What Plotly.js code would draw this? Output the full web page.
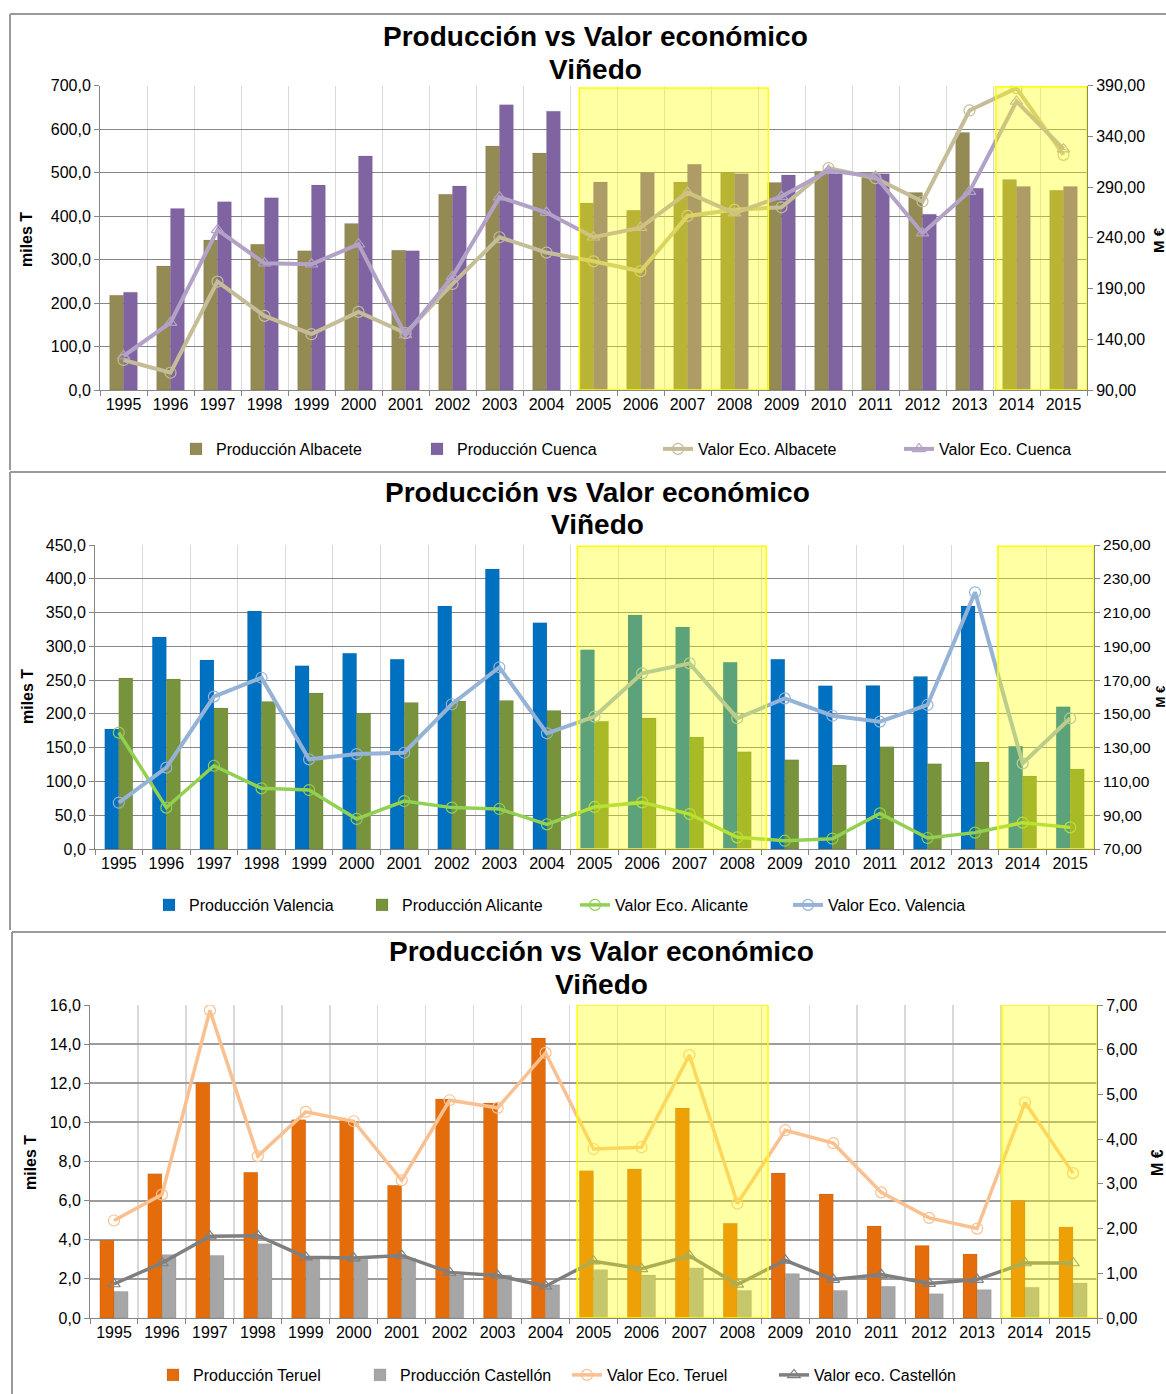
<!DOCTYPE html>
<html><head><meta charset="utf-8">
<script src="https://cdn.plot.ly/plotly-3.0.1.min.js"></script>
<style>body{margin:0;background:#fff}#c{width:1166px;height:1394px}</style>
</head><body><div id="c"></div>
<script>
const years = ['1995','1996','1997','1998','1999','2000','2001','2002','2003','2004','2005','2006','2007','2008','2009','2010','2011','2012','2013','2014','2015'];

// Chart 1
const prodAlbacete = [218,285,345,335,320,383,321,450,561,545,430,413,478,500,477,503,498,454,592,484,459];
const prodCuenca = [225,417,433,442,471,538,320,469,656,641,478,500,519,497,494,497,497,404,464,468,468];
const valAlbacete = [119.6,107,196.8,163,145,167,146,194.5,240.5,225.4,216.8,207,261.5,267.5,270,308.5,298.7,275.7,365.4,387.4,321.7];
const valCuenca = [123.5,156.4,247.7,214.9,213.9,233.6,144.2,201.7,280,264.8,240.5,250,284.5,264.2,280.6,306.2,300.3,244.5,285.5,374.3,327.3];

// Chart 2
const prodValencia = [177.6,313.8,279.7,352.2,271.3,289.6,280.7,359.6,414.4,335,295,346.3,328.6,276.3,280.7,241.7,242.2,255.5,359.6,152,210.7];
const prodAlicante = [253,251.6,208.7,218.5,230.9,201.3,217,219,220,205.2,189,193.9,165.8,144,132.2,124.3,151.5,126.3,128.8,108,118.4];
const valAlicante = [138.9,94.5,119.3,105.9,104.9,87.8,98.4,94.5,93.7,84.6,94.9,97.6,90.7,76.9,74.9,76.1,91.1,76.5,79.7,85.6,82.8];
const valValencia = [97.4,118.2,160.2,171.4,123.1,126.2,127,155.7,177.6,138.5,148.4,174,179.9,147.4,159.2,148.9,145.4,155.3,222,120.7,147.4];

// Chart 3
const prodTeruel = [3.97,7.38,12.03,7.45,10.14,10.09,6.78,11.19,10.99,14.31,7.53,7.62,10.73,4.84,7.41,6.34,4.70,3.70,3.27,6.01,4.65];
const prodCastellon = [1.36,3.24,3.20,3.80,3.10,3.00,3.05,2.20,2.20,1.70,2.47,2.20,2.56,1.41,2.27,1.41,1.62,1.24,1.45,1.57,1.79];
const valTeruel = [2.18,2.76,6.88,3.62,4.61,4.40,3.08,4.87,4.70,5.93,3.78,3.82,5.88,2.56,4.20,3.91,2.81,2.24,2.00,4.82,3.24];
const valCastellon = [0.76,1.23,1.83,1.84,1.36,1.34,1.40,1.02,0.95,0.71,1.27,1.10,1.39,0.75,1.29,0.86,0.97,0.77,0.86,1.23,1.23];

const W = 1166, H = 1394;
const px = v => v / W;
const py = v => 1 - v / H;
const FONT = 'Liberation Sans, Arial, sans-serif';

function bar(name, y, color, xa, ya, leg) {
  return {type:'bar', name, x: years, y, xaxis: xa, yaxis: ya, legend: leg,
    marker:{color, line:{color:'rgba(0,0,0,0.15)', width:0.5}}};
}
function line(name, y, color, sym, xa, ya, leg, w) {
  return {type:'scatter', mode:'lines+markers', name, x: years, y, xaxis: xa, yaxis: ya, legend: leg,
    line:{color, width: w || 4}, marker:{symbol: sym, size: 11, color, line:{color, width:1.2}}};
}

const data = [
  bar('Producción Albacete', prodAlbacete, '#948A54', 'x', 'y', 'legend'),
  bar('Producción Cuenca', prodCuenca, '#8064A2', 'x', 'y', 'legend'),
  line('Valor Eco. Albacete', valAlbacete, '#C4BD97', 'circle-open', 'x', 'y2', 'legend'),
  line('Valor Eco. Cuenca', valCuenca, '#B3A2C7', 'triangle-up-open', 'x', 'y2', 'legend'),

  bar('Producción Valencia', prodValencia, '#0070C0', 'x2', 'y3', 'legend2'),
  bar('Producción Alicante', prodAlicante, '#77933C', 'x2', 'y3', 'legend2'),
  line('Valor Eco. Alicante', valAlicante, '#92D050', 'circle-open', 'x2', 'y4', 'legend2', 3.5),
  line('Valor Eco. Valencia', valValencia, '#95B3D7', 'circle-open', 'x2', 'y4', 'legend2', 4),

  bar('Producción Teruel', prodTeruel, '#E46C0A', 'x3', 'y5', 'legend3'),
  bar('Producción Castellón', prodCastellon, '#A6A6A6', 'x3', 'y5', 'legend3'),
  line('Valor Eco. Teruel', valTeruel, '#FAC090', 'circle-open', 'x3', 'y6', 'legend3', 3.5),
  line('Valor eco. Castellón', valCastellon, '#7F7F7F', 'triangle-up-open', 'x3', 'y6', 'legend3', 3.5)
];

const tf = {family: FONT, size: 16, color:'#000'};
function xax(dom, anchor, gw) {
  return {domain: dom, anchor, type:'category', range:[-0.5, 20.5], autorange:false, tickangle:0,
    tickson:'boundaries', showgrid:true, gridcolor:'#D9D9D9', gridwidth: gw || 1,
    showline:true, linecolor:'#868686', ticks:'outside', ticklen:5, tickcolor:'#868686', tickfont: tf};
}
function yl(dom, anchor, range, dtick, fmt, gw, gc) {
  return {domain: dom, anchor, range, autorange:false, tick0: range[0], dtick, tickformat: fmt, showgrid:true,
    gridcolor: gc || '#868686', gridwidth: gw || 1,
    showline:true, linecolor:'#868686', ticks:'outside', ticklen:5, tickcolor:'#868686', tickfont: tf, zeroline:false};
}
function yr(over, anchor, range, dtick, fmt, fs) {
  return {overlaying: over, anchor, side:'right', range, autorange:false, tick0: range[0], dtick, tickformat: fmt, showgrid:false,
    showline:true, linecolor:'#868686', ticks:'outside', ticklen:5, tickcolor:'#868686',
    tickfont: {family: FONT, size: fs || 16, color:'#000'}, zeroline:false};
}

const hl = 'rgba(255,255,0,0.36)';
function hi(xr, yr_, x0, x1, y0, y1) {
  return {type:'rect', xref: xr, yref: yr_, x0, x1, y0, y1, fillcolor: hl, line:{color:'#FFFF00', width:1.5}, layer:'above'};
}
function pl(x0, y0, x1, y1) {
  return {type:'line', xref:'paper', yref:'paper', x0: px(x0), y0: py(y0), x1: px(x1), y1: py(y1), line:{color:'#9A9A9A', width:2}};
}

function ttl(text, x, y, size) {
  return {text, x: px(x), y: py(y), xref:'paper', yref:'paper', showarrow:false, xanchor:'center', yanchor:'middle',
    font:{family: FONT, size: size || 28, color:'#000', weight:'bold'}};
}
function vt(text, x, y, size) {
  return {text, x: px(x), y: py(y), xref:'paper', yref:'paper', showarrow:false, xanchor:'center', yanchor:'middle', textangle:-90,
    font:{family: FONT, size: size || 16, color:'#000', weight:'bold'}};
}
function leg(x, y, ew) {
  return {orientation:'h', x: px(x), y: py(y), xanchor:'left', yanchor:'middle', entrywidth: ew, entrywidthmode:'pixels',
    font:{family: FONT, size:16, color:'#000'}, bgcolor:'rgba(0,0,0,0)', traceorder:'normal', itemwidth:30};
}

const layout = {
  width: W, height: H, margin:{l:0, r:0, t:0, b:0}, paper_bgcolor:'#fff', plot_bgcolor:'#fff',
  separators: ',.', barmode:'group', bargap: 0.41, bargroupgap: 0, showlegend: true,
  font:{family: FONT},
  xaxis: xax([px(100), px(1087)], 'y'),
  yaxis: yl([py(390), py(85.5)], 'x', [0,700], 100, '.1f'),
  yaxis2: yr('y', 'x', [90,390], 50, '.2f'),
  xaxis2: xax([px(95), px(1094)], 'y3'),
  yaxis3: yl([py(849), py(545)], 'x2', [0,450], 50, '.1f'),
  yaxis4: yr('y3', 'x2', [70,250], 20, '.2f', 15.5),
  xaxis3: xax([px(90), px(1097)], 'y5', 1.5),
  yaxis5: yl([py(1318), py(1005)], 'x3', [0,16], 2, '.1f', 1.8, '#9C9C9C'),
  yaxis6: yr('y5', 'x3', [0,7], 1, '.2f'),
  legend: leg(176, 449, 196),
  legend2: leg(149, 905, 168),
  legend3: leg(153, 1375, 162),
  shapes: [
    hi('x','y', 9.7, 13.72, 0, 694), hi('x','y', 18.56, 20.5, 0, 697),
    hi('x2','y3', 9.64, 13.61, 0, 448), hi('x2','y3', 18.48, 20.5, 0, 448),
    hi('x3','y5', 9.66, 13.64, 0, 16), hi('x3','y5', 18.52, 20.5, 0, 16),
    pl(10, 14, 1166, 14), pl(10, 14, 10, 470),
    pl(10, 472, 1166, 472), pl(10, 472, 10, 930),
    pl(12, 932, 1166, 932), pl(12, 932, 12, 1394)
  ],
  annotations: [
    ttl('Producción vs Valor económico', 595, 37), ttl('Viñedo', 595, 69),
    ttl('Producción vs Valor económico', 597, 492), ttl('Viñedo', 597, 524),
    ttl('Producción vs Valor económico', 601, 951), ttl('Viñedo', 601, 985),
    vt('miles T', 27, 240), vt('M €', 1159, 240, 15),
    vt('miles T', 27, 697), vt('M €', 1159.5, 697, 13),
    vt('miles T', 30, 1163), vt('M €', 1157, 1163)
  ]
};

Plotly.newPlot('c', data, layout, {staticPlot:true});
</script></body></html>
